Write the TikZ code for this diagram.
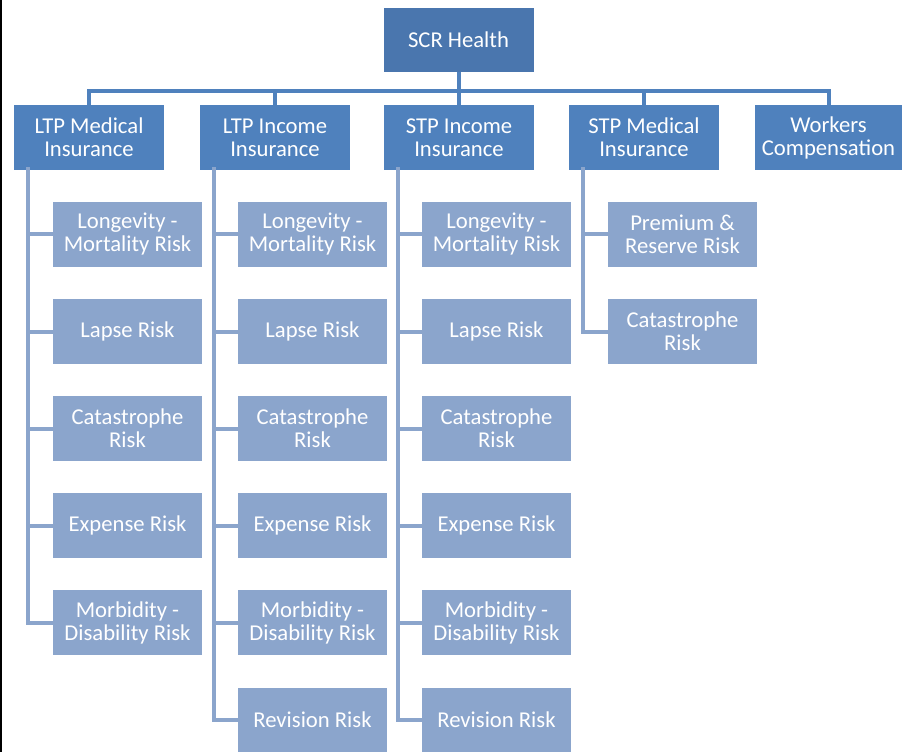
\documentclass[tikz,border=0pt]{standalone}
\usepackage{fontspec}
\setmainfont{Carlito}
\usetikzlibrary{positioning}

\definecolor{topblue}{HTML}{4A76AE}
\definecolor{midblue}{HTML}{4F81BD}
\definecolor{lowblue}{HTML}{8BA5CC}

\tikzset{
  boxfont/.style={font=\fontsize{17}{17.25}\selectfont},
  topbox/.style={fill=topblue, text=white, boxfont, align=center, inner sep=0pt,
    minimum width=112.5pt, minimum height=48pt},
  groupbox/.style={fill=midblue, text=white, boxfont, align=center, inner sep=0pt,
    minimum width=112.5pt, minimum height=48.75pt},
  riskbox/.style={fill=lowblue, text=white, boxfont, align=center, inner sep=0pt,
    minimum width=111.75pt, minimum height=48.75pt},
  busline/.style={draw=midblue, line width=3pt},
  riskline/.style={draw=lowblue, line width=3pt}
}

\begin{document}
\begin{tikzpicture}[x=0.75pt,y=0.75pt,yscale=-1,xscale=1]
        \useasboundingbox (0,0) rectangle (902,752);
        %left frame edge
        \draw [black, line width=1.5pt] (0.5,0) -- (0.5,752);

        % Top Node
        \node [topbox] (scr) at (458.5,40) {SCR Health};
        \coordinate (bus) at (458.5,91);

        % Group Nodes
        \node [groupbox] (ltpmed) at (89,137.5) {LTP Medical\\Insurance};
        \node [groupbox] (ltpinc) at (275,137.5) {LTP Income\\Insurance};
        \node [groupbox] (stpinc) at (459,137.5) {STP Income\\Insurance};
        \node [groupbox] (stpmed) at (644,137.5) {STP Medical\\Insurance};
        \node [groupbox, minimum width=110.25pt] (workers) at (828.5,137.5) {Workers\\Compensation};

        %Bus Lines
        \draw [busline] (scr.south) -- (bus);
        \foreach \g in {ltpmed,ltpinc,stpinc,stpmed,workers}
          \draw [busline] (\g.north) |- (bus);

        % Risk Nodes, LTP Medical
        \foreach \txt [count=\i] in {{Longevity -\\Mortality Risk},{Lapse Risk},{Catastrophe\\Risk},{Expense Risk},{Morbidity -\\Disability Risk}}{
          \node [riskbox] (lm\i) at (127.5,{234.5+(\i-1)*97.1}) {\txt};
          \draw [riskline] ([xshift=10.5pt,yshift=-2.25pt]ltpmed.south west) |- (lm\i.west);
        }
        % Risk Nodes, LTP Income
        \foreach \txt [count=\i] in {{Longevity -\\Mortality Risk},{Lapse Risk},{Catastrophe\\Risk},{Expense Risk},{Morbidity -\\Disability Risk},{Revision Risk}}{
          \node [riskbox] (li\i) at (312.5,{234.5+(\i-1)*97.1}) {\txt};
          \draw [riskline] ([xshift=10.5pt,yshift=-2.25pt]ltpinc.south west) |- (li\i.west);
        }
        % Risk Nodes, STP Income
        \foreach \txt [count=\i] in {{Longevity -\\Mortality Risk},{Lapse Risk},{Catastrophe\\Risk},{Expense Risk},{Morbidity -\\Disability Risk},{Revision Risk}}{
          \node [riskbox] (si\i) at (496.5,{234.5+(\i-1)*97.1}) {\txt};
          \draw [riskline] ([xshift=10.5pt,yshift=-2.25pt]stpinc.south west) |- (si\i.west);
        }
        % Risk Nodes, STP Medical
        \foreach \txt [count=\i] in {{Premium \&\\Reserve Risk},{Catastrophe\\Risk}}{
          \node [riskbox] (sm\i) at (682.5,{234.5+(\i-1)*97.1}) {\txt};
          \draw [riskline] ([xshift=10.5pt,yshift=-2.25pt]stpmed.south west) |- (sm\i.west);
        }

\end{tikzpicture}
\end{document}
